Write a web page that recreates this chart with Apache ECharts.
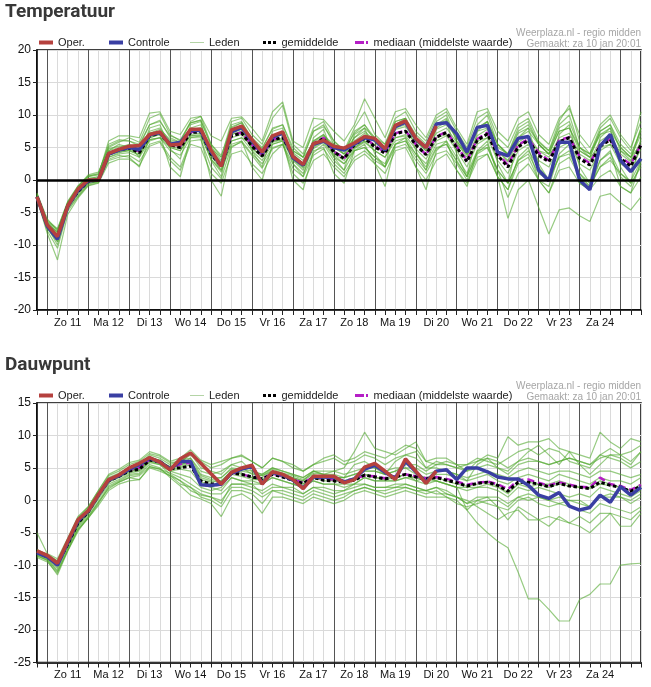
<!DOCTYPE html>
<html>
<head>
<meta charset="utf-8">
<title>Pluim temperatuur en dauwpunt</title>
<script src="https://cdn.jsdelivr.net/npm/echarts@6/dist/echarts.min.js"></script>
<style>
  html, body { margin: 0; padding: 0; background: #fff; }
  #grafiek { width: 651px; height: 687px; }
</style>
</head>
<body>
<div id="grafiek"></div>
<script>
// tijdas: 6-uurlijks, za 10 jan 18:00 t/m zo 25 jan 12:00 (60 punten)
var dagen = ['Za 10', 'Zo 11', 'Ma 12', 'Di 13', 'Wo 14', 'Do 15', 'Vr 16', 'Za 17',
             'Zo 18', 'Ma 19', 'Di 20', 'Wo 21', 'Do 22', 'Vr 23', 'Za 24', 'Zo 25'];
var uren = ['00:00', '06:00', '12:00', '18:00'];

var yTempMin = -20, yTempMax = 20;
var yDauwMin = -25, yDauwMax = 15;

// ---- Temperatuur ----
var tempOper = [-2.6, -6.9,-8.7,-4.0,-1.4, 0.0,0.0,4.1,4.7, 5.2,5.3,7.0,7.4, 5.4,5.5,7.8,7.8,
  4.6,2.1,7.7,8.3, 6.2,4.3,6.8,7.4, 3.6,2.4,5.6,6.1, 5.2,4.9,5.7,6.7, 6.4,4.8,8.4,9.1, 6.4,5.0,8.3];
var tempControle = [-2.6, -7.1,-9.1,-4.1,-1.6, -0.1,0.0,4.0,4.6, 5.0,4.7,6.9,7.3, 5.5,5.8,7.6,7.6,
  4.3,2.2,7.4,8.1, 6.0,4.2,6.6,7.2, 3.4,2.3,5.5,6.0, 5.0,4.6,5.5,6.5, 6.2,4.6,8.2,8.9,
  6.3,5.0,8.6,8.8, 7.1,4.3,8.1,8.4, 4.3,3.7,6.4,6.7, 1.5,-0.1,5.8,5.8, 0.0,-1.5,5.2,7.0, 3.0,1.3,3.3];
var tempGemiddelde = [-2.6, -7.0,-8.7,-4.0,-1.8, -0.2,0.0,4.0,4.6, 4.9,4.2,6.8,7.2, 5.4,5.0,7.3,7.4,
  4.0,2.1,6.8,7.2, 5.2,3.7,6.1,6.6, 3.6,2.3,5.4,6.4, 4.3,3.3,5.4,6.4, 5.1,4.1,7.1,7.5,
  5.4,3.9,6.6,7.3, 5.0,2.8,6.1,7.1, 3.8,2.0,5.1,6.1, 3.8,2.8,5.9,6.5, 3.3,2.3,5.2,6.2, 3.3,2.1,5.4];
var tempMediaan = [-2.6, -7.0,-8.7,-4.0,-1.7, -0.2,0.0,4.1,4.7, 5.0,4.4,6.9,7.3, 5.6,5.2,7.4,7.5,
  4.3,2.2,6.9,7.3, 5.4,3.8,6.2,6.6, 3.7,2.4,5.6,6.5, 4.4,3.4,5.5,6.5, 5.3,4.2,7.2,7.6,
  5.5,3.9,6.7,7.4, 5.2,3.0,6.3,7.3, 4.1,2.3,5.4,6.3, 4.2,3.0,6.1,6.6, 3.6,2.6,5.4,6.3, 3.5,2.4,5.5];
var tempLeden = [
  [-2.2, -6.2,-7.5,-3.3,-0.9, 0.6,0.9,5.5,6.2, 6.0,5.5,8.5,9.0, 6.8,6.2,8.8,9.2, 5.5,3.8,8.2,8.8, 6.5,5.0,7.8,8.5, 5.0,3.5,7.5,8.2, 6.0,4.5,7.2,8.5, 6.5,5.5,9.0,9.5, 7.0,5.5,8.5,9.2, 6.5,4.5,8.0,9.0, 5.5,3.8,7.2,8.0, 5.8,4.5,8.0,9.0, 5.0,4.0,7.5,8.5, 5.5,4.0,7.5],
  [-3.0, -7.8,-10.5,-4.8,-2.6, -0.8,-0.4,3.0,3.5, 3.8,2.8,5.5,6.0, 3.5,2.0,6.0,6.2, 2.0,0.2,5.2,5.8, 3.8,1.8,4.8,5.5, 1.8,0.5,3.8,4.8, 2.5,1.0,3.5,4.5, 3.0,2.0,5.5,6.0, 3.5,1.5,4.8,5.5, 2.8,0.5,4.2,5.5, 1.5,-0.5,3.0,4.0, 1.0,0.0,3.5,4.5, 1.0,-0.5,3.0,4.2, 1.0,-0.2,3.0],
  [-2.4, -7.2,-9.5,-4.2,-1.5, 0.2,0.5,4.8,5.2, 5.2,3.5,8.0,8.5, 4.8,3.2,8.5,9.0, 3.0,0.5,8.0,8.8, 4.5,2.0,7.5,8.0, 2.5,0.5,6.5,7.8, 3.5,1.5,7.0,8.0, 4.0,2.0,8.5,9.5, 4.5,1.5,8.0,9.0, 4.0,0.5,7.5,9.0, 2.5,-0.5,6.5,8.0, 2.5,0.0,7.0,8.5, 2.0,-0.5,6.5,8.0, 2.0,-0.5,6.5],
  [-2.7, -7.0,-8.8,-4.0,-1.9, -0.3,0.0,3.8,4.5, 4.5,4.0,6.5,7.0, 5.0,4.5,7.0,7.2, 3.8,2.0,6.5,7.0, 5.0,3.5,5.8,6.2, 3.2,2.0,5.0,6.0, 3.8,2.5,4.5,5.0, 3.5,2.0,5.0,5.5, 3.0,1.0,4.0,4.5, 2.5,0.0,3.5,4.0, 0.5,-5.9,-1.5,0.0, -4.2,-8.3,-4.6,-4.3, -5.5,-6.4,-2.5,-2.1, -3.5,-4.6,-2.6],
  [-2.5, -6.8,-8.5,-3.8,-1.6, 0.0,0.2,4.2,4.8, 5.0,4.5,7.0,7.5, 5.8,5.2,7.5,7.8, 4.2,2.5,7.0,7.5, 5.5,4.0,6.0,6.5, 3.5,2.5,5.5,6.5, 4.0,3.0,5.0,6.0, 4.5,3.5,6.0,6.5, 4.0,2.5,5.5,6.0, 3.5,1.0,4.5,5.0, 1.5,-2.7,1.0,2.5, 0.0,-2.0,1.5,2.0, -0.5,-1.5,0.5,1.5, -1.0,-2.0,0.5],
  [-2.0, -6.0,-7.8,-3.5,-1.0, 0.8,1.2,5.0,5.8, 6.5,5.8,9.5,10.2, 7.0,6.0,9.0,9.8, 5.5,3.5,9.0,9.5, 7.0,5.5,9.5,11.5, 5.5,4.0,8.0,9.0, 6.0,4.5,8.0,10.5, 7.0,5.5,9.5,10.5, 7.5,6.0,9.5,10.5, 7.5,5.0,9.5,10.5, 6.5,5.0,8.5,9.5, 6.0,4.5,9.0,11.5, 6.0,4.0,8.0,9.5, 6.5,4.5,10.5],
  [-2.8, -7.5,-9.5,-4.4,-2.2, -0.5,-0.3,3.5,4.0, 4.2,3.5,6.0,6.5, 5.0,4.5,6.8,6.8, 3.2,1.2,6.0,6.5, 4.5,3.0,5.5,6.0, 3.0,1.5,4.8,5.8, 3.5,2.5,4.8,5.8, 4.5,3.5,6.5,6.8, 4.8,3.2,6.0,6.8, 4.5,2.0,5.5,6.5, 3.0,1.0,4.5,5.5, 3.0,2.0,5.0,5.8, 2.5,1.5,4.5,5.5, 2.5,1.5,4.8],
  [-2.5, -6.6,-8.2,-3.8,-1.5, 0.0,0.3,4.5,5.0, 5.5,5.0,7.5,8.0, 6.0,5.5,7.8,8.0, 4.8,2.8,7.5,7.8, 5.8,4.5,6.8,7.2, 4.2,3.0,6.0,7.0, 5.0,4.0,6.0,7.2, 5.8,4.8,7.8,8.2, 6.0,4.5,7.2,8.0, 5.8,3.5,6.8,7.8, 4.5,2.8,5.8,6.8, 4.5,3.5,6.5,7.2, 4.0,3.0,6.0,7.0, 4.0,2.8,6.0],
  [-2.9, -8.2,-12.3,-5.3,-2.8, -0.9,-0.5,2.6,3.2, 3.2,2.2,5.2,5.8, 3.0,1.5,5.5,5.0, 1.0,-0.5,4.0,4.5, 2.5,1.0,4.0,5.5, 1.0,-0.5,3.0,4.0, 2.0,0.5,3.0,4.0, 2.5,1.0,4.5,5.0, 2.0,0.0,3.0,4.0, 1.5,-0.5,3.0,4.0, 0.5,-1.5,2.5,3.5, 0.0,-2.0,2.5,3.5, 0.5,-1.0,2.0,3.5, 0.5,-1.0,2.5],
  [-2.3, -6.5,-8.0,-3.5,-1.2, 0.5,0.8,6.0,6.8, 6.8,6.5,10.3,10.5, 7.5,7.0,9.5,9.8, 6.8,6.0,9.5,9.7, 8.0,6.0,10.5,12.0, 6.0,5.0,9.5,9.3, 7.5,6.0,8.5,12.5, 9.5,6.5,10.5,11.0, 8.5,6.5,10.0,11.0, 8.0,5.5,10.5,11.0, 7.5,6.0,9.5,10.5, 7.0,5.5,9.5,11.0, 7.0,5.0,8.5,10.0, 7.0,5.0,9.0],
  [-2.6, -7.2,-10.0,-4.5,-2.5, -0.6,-0.2,3.2,3.8, 3.5,2.0,6.5,7.0, 2.0,0.5,6.5,6.5, 0.0,-2.5,5.0,6.0, 2.0,0.0,5.5,6.0, 0.0,-1.5,4.5,5.0, 1.0,-0.5,4.5,5.5, 2.5,-1.0,5.5,6.5, 2.0,-1.5,4.5,6.0, 1.5,-1.0,4.5,6.0, 0.5,-1.5,3.5,5.0, 0.0,-1.0,4.0,5.5, -0.5,-1.5,3.0,4.5, -1.0,-2.0,3.0],
  [-2.4, -6.8,-8.0,-3.6,-1.2, 0.2,0.5,4.5,5.5, 5.0,4.2,7.2,7.8, 6.2,5.8,8.0,8.5, 4.5,2.0,7.2,7.8, 5.5,3.8,6.5,7.0, 4.0,2.5,6.0,7.0, 4.5,3.5,6.5,7.5, 6.0,5.0,8.5,9.0, 6.5,5.0,8.5,9.5, 6.0,4.0,7.5,8.0, 4.5,3.0,6.5,7.5, 5.5,4.0,7.5,8.0, 4.5,3.5,7.0,8.0, 5.0,3.5,7.0],
  [-2.7, -7.0,-8.6,-4.1,-1.7, -0.1,0.2,3.8,4.3, 4.6,4.4,6.2,6.5, 5.5,5.5,6.8,7.0, 4.8,3.5,6.0,6.5, 5.5,4.5,6.0,6.2, 4.5,3.5,5.5,6.0, 5.0,4.0,5.0,6.0, 5.5,5.0,6.5,7.0, 6.0,5.0,6.5,7.0, 5.5,4.0,6.0,6.5, 5.0,4.0,5.5,6.0, 4.5,4.0,5.5,6.0, 4.5,3.5,5.0,5.5, 4.5,3.5,5.5],
  [-2.6, -7.1,-9.0,-4.0,-1.7, -0.2,0.0,4.3,4.8, 5.2,4.5,7.2,7.5, 5.2,4.8,7.8,8.0, 3.8,1.5,7.0,7.5, 4.8,3.5,6.5,7.0, 3.2,1.8,5.8,6.8, 5.5,4.5,6.5,8.0, 6.5,5.0,8.0,8.5, 6.0,4.5,7.8,8.5, 6.5,3.8,8.0,9.0, 5.5,4.0,7.5,8.5, 5.5,4.0,7.5,8.0, 5.0,4.0,7.0,7.5, 5.0,3.5,8.0],
  [-2.8, -7.4,-9.2,-4.3,-2.0, -0.4,-0.2,3.5,4.2, 4.5,3.8,6.2,6.5, 4.5,3.8,6.5,6.8, 3.2,1.5,5.5,6.0, 4.0,2.5,5.0,5.5, 2.5,1.0,4.2,5.5, 3.0,1.5,4.5,5.0, 3.5,2.5,5.5,6.0, 4.0,2.0,5.0,5.5, 3.0,0.5,4.0,5.0, 1.5,-0.5,3.0,4.5, 2.0,0.0,3.5,4.0, 1.0,-1.0,2.0,3.0, 1.0,-0.5,2.0],
  [-2.1, -6.4,-7.6,-3.4,-1.0, 0.6,1.0,5.2,6.0, 6.0,5.2,8.5,9.2, 6.5,5.8,8.8,9.2, 5.2,3.0,8.5,9.0, 6.2,4.8,8.0,8.5, 4.5,3.5,7.5,8.5, 5.5,4.0,7.5,8.5, 6.0,4.5,9.0,9.5, 6.5,5.0,9.0,10.0, 6.0,4.0,8.5,10.0, 5.5,4.0,8.0,9.0, 5.5,4.0,8.5,10.0, 5.0,3.5,7.5,8.5, 4.5,3.0,8.0]
];

// ---- Dauwpunt ----
var dauwOper = [-7.8, -8.5,-9.7,-6.3,-3.0, -1.6,0.9,3.2,3.9, 5.0,5.7,6.6,5.9, 4.7,6.4,7.3,5.7,
  4.1,2.5,4.3,5.0, 5.4,2.5,4.4,4.0, 3.2,1.8,3.7,3.7, 3.7,2.7,3.2,5.1, 5.7,4.5,3.2,6.4, 4.5,2.6,4.5];
var dauwControle = [-8.1, -8.7,-10.0,-6.5,-3.2, -1.7,0.8,3.1,3.8, 4.8,5.5,6.5,5.9, 4.8,6.0,6.0,2.4,
  2.3,2.5,4.2,4.8, 5.2,2.6,4.3,3.9, 3.1,1.9,3.6,3.6, 3.6,2.8,3.3,4.8, 5.4,4.3,3.4,6.0,
  4.4,2.8,4.5,4.7, 3.2,5.0,5.0,4.4, 3.6,3.3,3.3,2.3, 0.8,0.3,1.2,-0.9, -1.5,-1.1,0.8,-0.3, 2.1,0.8,2.0];
var dauwGemiddelde = [-8.0, -8.7,-9.8,-6.8,-3.5, -1.8,0.8,3.0,3.7, 4.5,4.8,6.2,5.9, 4.9,5.0,5.3,3.0,
  2.5,2.5,4.2,4.0, 3.6,3.3,4.0,3.6, 3.1,2.6,3.5,3.1, 3.0,2.8,3.1,3.9, 3.6,3.3,3.6,4.0,
  3.6,3.3,3.5,3.1, 2.7,2.2,2.6,2.8, 2.3,1.4,2.8,2.8, 2.5,2.1,2.6,2.2, 2.0,1.8,2.8,2.3, 2.0,1.4,2.2];
var dauwMediaan = [-8.0, -8.7,-9.8,-6.6,-3.3, -1.7,0.9,3.1,3.8, 4.7,5.0,6.3,6.0, 4.9,5.6,5.8,2.4,
  2.3,2.4,4.3,4.0, 3.6,3.4,4.1,3.7, 3.2,2.7,3.6,3.3, 3.2,3.0,3.3,3.8, 3.7,3.4,3.7,4.0,
  3.7,3.4,3.6,3.3, 2.9,2.4,2.7,2.9, 2.5,1.7,3.1,3.2, 2.7,2.3,2.8,2.4, 2.1,2.0,3.5,2.5, 2.2,1.6,2.4];
var dauwLeden = [
  [-5.0, -8.2,-9.0,-5.8,-2.5, -1.0,1.5,3.8,4.5, 5.5,6.0,7.2,6.8, 5.8,6.0,7.0,6.0, 5.0,5.5,6.5,6.8, 6.0,5.0,6.5,6.0, 5.5,4.5,5.5,6.0, 6.5,5.5,6.0,7.0, 6.5,5.5,6.5,7.0, 7.5,5.0,6.0,5.5, 5.0,5.5,6.5,6.0, 5.5,6.5,7.5,8.0, 7.0,8.0,7.5,6.0, 5.5,5.0,7.0,8.0, 7.0,6.0,7.5],
  [-8.6, -9.2,-11.0,-7.8,-4.5, -2.8,-0.5,2.0,2.8, 3.5,3.2,5.2,4.8, 3.8,2.5,2.0,0.5, 0.0,-1.0,1.5,1.5, 1.0,-0.5,1.5,1.0, 0.5,0.0,1.0,0.5, 0.0,0.5,1.5,2.0, 1.5,1.0,1.5,2.0, 1.5,1.0,1.5,0.5, 0.0,-1.5,0.0,-0.5, -1.0,-1.5,0.0,0.5, -0.5,-1.0,-0.5,-1.0, -1.5,-2.0,-0.5,-1.0, -1.5,-2.0,-1.0],
  [-8.2, -8.9,-10.2,-7.0,-3.8, -2.0,0.5,2.8,3.5, 4.2,4.5,6.0,5.5, 4.5,4.0,3.5,2.0, 1.5,2.0,3.5,3.0, 2.5,2.5,3.5,3.0, 2.5,2.0,3.0,2.5, 2.5,2.0,2.5,3.5, 3.0,3.0,3.0,3.5, 3.0,3.5,3.0,2.5, 2.0,2.0,2.0,2.5, 2.0,1.0,2.5,2.0, 2.5,2.5,3.0,2.5, 2.0,2.0,3.0,2.5, 2.0,1.5,2.5],
  [-7.9, -8.6,-9.5,-6.5,-3.2, -1.5,1.0,3.2,4.0, 4.8,5.0,6.5,6.2, 5.0,5.5,6.0,3.5, 3.0,3.0,4.5,4.0, 3.5,3.0,4.5,4.0, 3.0,2.5,3.5,3.5, 3.0,3.0,3.5,4.0, 3.5,3.5,3.5,4.0, 3.0,2.5,3.0,2.5, 2.0,-1.5,-3.5,-5.0, -6.3,-7.3,-11.1,-15.2, -15.2,-16.8,-18.6,-18.6, -15.3,-14.5,-12.9,-12.9, -10.0,-9.8,-9.7],
  [-8.0, -8.8,-9.9,-6.9,-3.6, -1.9,0.7,3.0,3.6, 4.5,4.8,6.2,6.0, 5.2,5.8,7.2,5.0, 4.5,4.0,5.5,6.0, 4.5,4.0,5.0,4.5, 4.0,3.5,4.5,4.0, 4.5,5.0,7.5,10.5, 8.0,7.5,7.0,8.0, 9.0,6.0,5.5,6.0, 5.5,4.5,6.0,7.0, 6.5,9.8,8.5,9.0, 9.0,9.5,8.0,7.5, 7.0,6.5,10.5,9.0, 8.0,9.5,9.0],
  [-8.3, -9.0,-10.5,-7.2,-4.0, -2.2,0.2,2.5,3.2, 4.0,4.2,5.8,5.5, 4.0,3.0,2.0,1.0, 0.5,-0.5,2.5,2.5, 2.0,1.5,2.5,2.0, 1.5,1.0,2.0,2.0, 1.5,1.5,2.0,2.5, 2.0,2.0,2.5,2.5, 2.0,1.5,2.0,1.5, 0.5,-0.5,0.5,0.5, -1.0,-3.0,-1.0,-2.0, -3.0,-4.0,-2.5,-3.5, -4.0,-5.0,-3.5,-2.0, -4.0,-4.0,-2.0],
  [-8.1, -8.8,-9.9,-6.9,-3.6, -1.8,0.8,3.0,3.7, 4.5,4.8,6.3,6.0, 4.7,5.0,5.5,2.8, 2.5,2.5,4.0,3.7, 3.2,3.2,4.2,3.6, 3.0,2.5,3.5,3.0, 3.0,2.8,3.0,4.0, 3.5,3.2,3.5,4.0, 3.5,3.2,3.5,3.0, 2.5,2.2,2.5,2.8, 2.2,1.2,2.5,2.8, 2.5,2.0,2.5,2.2, 2.0,1.8,2.5,2.3, 2.0,1.5,2.0],
  [-7.6, -8.4,-9.4,-6.0,-2.8, -1.2,1.2,3.5,4.2, 5.0,5.5,7.0,6.5, 5.5,6.2,6.5,4.0, 3.5,3.5,5.0,4.8, 4.5,4.0,5.0,4.5, 4.0,3.5,4.5,4.5, 4.5,4.0,4.5,5.0, 5.0,4.5,5.0,5.0, 5.0,4.0,4.5,4.5, 4.0,3.5,4.0,4.5, 4.0,3.5,4.5,5.0, 4.5,4.0,4.5,4.5, 4.0,3.5,4.5,4.5, 4.0,3.5,4.0],
  [-8.4, -9.1,-10.8,-7.5,-4.2, -2.5,-0.2,2.2,3.0, 3.8,4.0,5.5,5.0, 3.5,2.2,0.8,0.2, -0.5,-2.5,0.5,1.0, 0.0,-2.0,0.5,0.5, 0.0,-0.5,0.5,0.0, -0.5,0.0,1.0,1.5, 1.0,0.5,1.0,1.5, 1.0,0.5,0.5,0.5, -0.5,-1.0,-0.5,0.0, 0.0,-1.0,0.5,0.0, 0.5,0.0,0.5,0.0, -0.5,-1.0,0.5,0.5, 0.5,0.0,1.0],
  [-7.8, -8.5,-9.6,-6.4,-3.2, -1.6,1.0,3.3,4.0, 4.8,5.2,6.5,6.2, 5.0,5.5,6.5,4.5, 4.0,4.5,5.5,5.0, 4.0,3.8,4.5,4.0, 3.5,3.0,4.5,4.0, 3.5,3.5,4.0,4.5, 4.5,4.0,4.5,5.0, 4.0,3.5,4.0,4.0, 3.5,3.0,3.5,4.0, 3.0,2.5,3.5,4.0, 3.5,3.0,4.0,3.5, 3.0,2.5,3.5,3.0, 3.0,2.5,3.5],
  [-8.0, -8.7,-9.7,-6.7,-3.4, -1.7,0.9,3.1,3.8, 4.6,4.9,6.2,5.9, 4.8,5.2,5.8,3.2, 2.8,3.0,4.5,4.2, 3.5,3.5,4.5,4.0, 3.5,3.0,4.0,3.5, 3.5,3.5,5.5,6.0, 5.0,4.0,6.0,7.0, 6.5,5.0,5.0,4.5, 4.0,3.0,5.5,6.5, 5.0,4.5,6.0,7.5, 8.5,7.0,5.5,7.5, 5.5,4.0,5.5,7.0, 6.5,5.5,7.5],
  [-8.5, -9.3,-11.5,-7.8,-4.8, -2.6,-0.3,1.8,2.8, 3.5,3.8,5.2,4.8, 4.2,3.5,2.5,1.5, 1.0,1.0,2.5,2.5, 2.5,1.0,2.0,2.0, 2.0,1.0,2.0,1.5, 1.0,1.5,2.5,2.5, 2.0,2.0,2.0,2.5, 2.0,1.5,2.0,1.0, 0.5,0.0,-1.0,-2.0, -3.0,-2.0,-1.5,-3.0, -3.0,-2.5,-3.0,-3.5, -2.5,-3.5,-2.0,-2.0, -2.5,-3.0,-1.5],
  [-7.7, -8.3,-9.3,-6.1,-2.7, -1.0,1.5,4.0,4.8, 5.8,6.2,7.5,7.0, 6.0,6.5,7.8,6.2, 5.5,6.0,6.5,7.0, 6.0,5.0,6.5,6.0, 5.0,4.5,5.5,6.5, 7.0,6.0,6.5,7.5, 7.0,6.5,7.5,8.5, 8.0,6.0,6.5,6.5, 5.5,5.5,6.0,6.5, 6.0,5.0,6.0,6.5, 6.0,5.5,6.0,6.5, 6.0,5.5,6.5,7.0, 7.0,7.5,8.5],
  [-8.2, -8.9,-10.0,-7.0,-3.7, -2.0,0.6,2.9,3.6, 4.4,4.6,6.0,5.8, 4.5,4.8,4.5,2.5, 2.0,1.5,3.5,3.0, 3.0,2.5,3.5,3.0, 2.5,2.0,3.0,2.5, 2.5,2.5,2.5,3.5, 3.0,3.0,3.0,3.5, 3.5,3.0,3.0,2.5, 2.0,1.5,2.0,2.0, 1.5,0.5,2.0,1.5, 2.0,1.5,1.0,0.5, 1.0,0.5,2.0,1.5, 1.0,0.5,1.5],
  [-7.9, -8.6,-9.6,-6.6,-3.3, -1.6,1.0,3.1,3.8, 4.6,5.0,6.4,6.1, 5.0,5.4,6.0,3.8, 3.2,3.5,4.8,4.5, 4.2,3.8,4.8,4.2, 3.8,3.2,4.2,4.0, 4.0,3.5,4.0,4.5, 4.5,4.0,4.5,5.5, 5.5,4.5,5.5,5.5, 5.0,4.5,5.0,5.5, 5.0,4.0,5.5,6.0, 6.0,5.5,6.0,6.5, 6.0,5.5,7.0,6.5, 6.0,5.0,6.0],
  [-8.8, -9.5,-11.2,-7.6,-4.5, -2.7,-0.8,1.5,2.5, 3.0,3.2,5.0,4.5, 3.8,3.0,1.5,0.8, 0.5,0.0,2.0,2.0, 1.5,0.5,1.5,1.5, 1.0,0.5,1.5,1.0, 0.5,1.0,1.5,2.0, 1.5,1.5,2.0,2.0, 1.5,1.5,1.0,1.0, 0.5,-0.5,0.0,0.5, 0.5,-0.5,0.5,1.0, 0.5,0.0,-0.5,0.0, 0.0,-1.0,0.5,1.0, 0.5,-0.5,0.5]
];

// categorieen opbouwen
var tijden = [];
for (var d = 0; d < dagen.length; d++) {
  for (var u = 0; u < uren.length; u++) {
    if (d === 0 && u < 3) continue;
    tijden.push(dagen[d] + ' ' + uren[u]);
  }
}
tijden = tijden.slice(0, 60);

var lettertype = '"Liberation Sans", Arial, sans-serif';
var kleurOper = '#b5413e';
var kleurControle = '#3a3fa3';
var kleurMediaan = '#b51fc6';
var kleurLeden = 'rgba(82,168,46,0.6)';

var panelen = [
  {titel: 'Temperatuur', boven: 50, hoogte: 260, min: yTempMin, max: yTempMax,
   leden: tempLeden, gem: tempGemiddelde, med: tempMediaan, ctrl: tempControle, oper: tempOper, nulLijn: true},
  {titel: 'Dauwpunt', boven: 403, hoogte: 259.5, min: yDauwMin, max: yDauwMax,
   leden: dauwLeden, gem: dauwGemiddelde, med: dauwMediaan, ctrl: dauwControle, oper: dauwOper, nulLijn: false}
];

// legenda-items: naam, x, icoon, kleur, hoogte icoon
var legendaPlek = [
  ['Oper.', 39, 'rect', kleurOper, 4],
  ['Controle', 109, 'rect', kleurControle, 4],
  ['Leden', 190, 'rect', '#b4d4a6', 1],
  ['gemiddelde', 263, 'path://M0,0h3v3h-3z M5,0h3v3h-3z M10,0h3v3h-3z', '#000', 3],
  ['mediaan (middelste waarde)', 355, 'path://M0,0h9v3h-9z M11,0h2v3h-2z', kleurMediaan, 3]
];

var option = {
  animation: false,
  backgroundColor: '#fff',
  title: [], grid: [], xAxis: [], yAxis: [], legend: [], series: [], graphic: []
};

panelen.forEach(function (p, gi) {
  var dy = p.boven - 50;

  option.title.push({
    text: p.titel, left: 5, top: 3 + dy, padding: 0,
    textStyle: {fontFamily: 'Roboto, ' + lettertype, fontWeight: 'bold', fontSize: 19, color: '#383838'}
  });

  option.grid.push({
    left: 37, right: 10, top: p.boven, height: p.hoogte,
    show: true, borderColor: '#000', borderWidth: 1.5, backgroundColor: 'transparent'
  });

  // as met labels en lichte 6-uurs lijnen
  option.xAxis.push({
    type: 'category', gridIndex: gi, data: tijden, boundaryGap: false,
    axisLine: {onZero: false, lineStyle: {color: '#000', width: 1.5}},
    axisTick: {show: true, interval: 0, length: 5, lineStyle: {color: '#222'}},
    axisLabel: {
      interval: function (i, v) { return v.slice(-5) === '12:00' && i < tijden.length - 1; },
      formatter: function (v) { return v.split(' ').slice(0, 2).join(' '); },
      fontFamily: lettertype, fontSize: 11, color: '#111', margin: 7
    },
    splitLine: {show: true, interval: 0, lineStyle: {color: '#dadada', width: 1}}
  });
  // tweede as alleen voor de donkere middernachtlijnen
  option.xAxis.push({
    type: 'category', gridIndex: gi, data: tijden, boundaryGap: false,
    axisLine: {show: false, onZero: false}, axisTick: {show: false}, axisLabel: {show: false},
    splitLine: {show: true, interval: function (i, v) { return v.slice(-5) === '00:00'; },
      lineStyle: {color: '#555', width: 1}}
  });

  option.yAxis.push({
    type: 'value', gridIndex: gi, min: p.min, max: p.max, interval: 5,
    axisLine: {show: true, onZero: false, lineStyle: {color: '#000', width: 1.5}},
    axisTick: {show: true, length: 4, lineStyle: {color: '#222'}},
    axisLabel: {fontFamily: lettertype, fontSize: 12, color: '#111', margin: 6},
    splitLine: {show: true, lineStyle: {color: '#dadada', width: 1}}
  });

  legendaPlek.forEach(function (lp) {
    option.legend.push({
      data: [{name: lp[0], icon: lp[2], itemStyle: {color: lp[3], borderWidth: 0}}],
      left: lp[1], top: 37 + dy, padding: 0,
      itemWidth: 14, itemHeight: lp[4], selectedMode: false,
      textStyle: {fontFamily: lettertype, fontSize: 11, color: '#222'}
    });
  });

  option.graphic.push({
    type: 'text', right: 10, top: 28 + dy, silent: true,
    style: {text: 'Weerplaza.nl - regio midden', fill: '#a6a6a6', font: '10px ' + lettertype}
  });
  option.graphic.push({
    type: 'text', right: 10, top: 39 + dy, silent: true,
    style: {text: 'Gemaakt: za 10 jan 20:01', fill: '#a6a6a6', font: '10px ' + lettertype}
  });

  var xi = gi * 2;
  p.leden.forEach(function (lid) {
    option.series.push({
      name: 'Leden', type: 'line', xAxisIndex: xi, yAxisIndex: gi, data: lid,
      symbol: 'none', silent: true, lineStyle: {color: kleurLeden, width: 1.2}
    });
  });
  option.series.push({
    name: 'mediaan (middelste waarde)', type: 'line', xAxisIndex: xi, yAxisIndex: gi, data: p.med,
    symbol: 'none', silent: true, lineStyle: {color: kleurMediaan, width: 2.5, type: [7, 4]}
  });
  var gem = {
    name: 'gemiddelde', type: 'line', xAxisIndex: xi, yAxisIndex: gi, data: p.gem,
    symbol: 'none', silent: true, lineStyle: {color: '#000', width: 3, type: [3.5, 2.5]}
  };
  if (p.nulLijn) {
    gem.markLine = {
      silent: true, symbol: ['none', 'none'], label: {show: false},
      lineStyle: {color: '#000', width: 2.5, type: 'solid'},
      data: [{yAxis: 0}]
    };
  }
  option.series.push(gem);
  option.series.push({
    name: 'Controle', type: 'line', xAxisIndex: xi, yAxisIndex: gi, data: p.ctrl,
    symbol: 'none', silent: true, lineStyle: {color: kleurControle, width: 3.5}
  });
  option.series.push({
    name: 'Oper.', type: 'line', xAxisIndex: xi, yAxisIndex: gi, data: p.oper,
    symbol: 'none', silent: true, lineStyle: {color: kleurOper, width: 3.5}
  });
});

var grafiek = echarts.init(document.getElementById('grafiek'));
grafiek.setOption(option);
</script>
</body>
</html>
